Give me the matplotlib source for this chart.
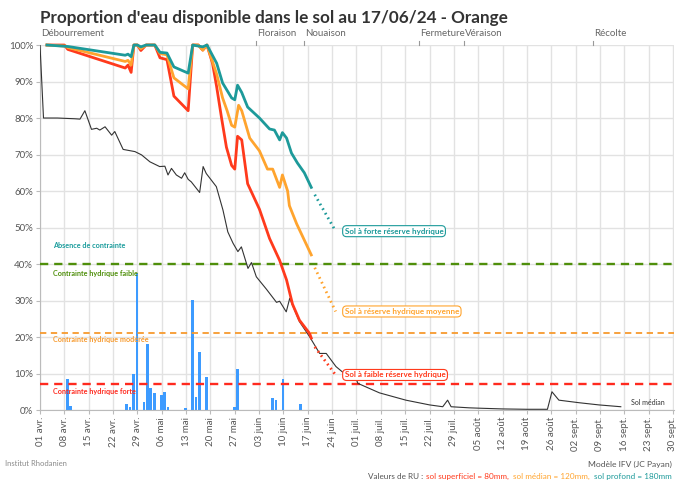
import matplotlib
matplotlib.use("Agg")
import matplotlib.pyplot as plt
import matplotlib.transforms as mtransforms

plt.rcParams['font.family'] = ['Lato', 'DejaVu Sans']

# jours comptés depuis le 01 avril
tick_labels = ["01 avr.", "08 avr.", "15 avr.", "22 avr.", "29 avr.", "06 mai", "13 mai",
               "20 mai", "27 mai", "03 juin", "10 juin", "17 juin", "24 juin", "01 juil.",
               "08 juil.", "15 juil.", "22 juil.", "29 juil.", "05 août", "12 août",
               "19 août", "26 août", "02 sept.", "09 sept.", "16 sept.", "23 sept.", "30 sept."]

stages = ["Débourrement", "Floraison", "Nouaison", "Fermeture", "Véraison", "Récolte"]
stage_days = [0, 62, 76, 109, 122, 159]

# sol médian (historique)
median_days = [0, 1, 5, 10, 11.5, 12.9, 14.8, 16.3, 17.2, 18.7, 20.6, 21.5, 23.9, 27.3, 29.2,
               31.6, 34.4, 35.9, 36.8, 37.8, 39.2, 40.7, 41.6, 42.6, 43.5, 45.9, 46.9, 47.8,
               50.7, 52.6, 54.0, 55.5, 56.9, 57.9, 59.8, 60.8, 62.2, 65.1, 68.0, 68.9, 70.8,
               71.8, 74.6, 77.5, 80.4, 82.3, 85.1, 87.5, 89.9, 91.4, 97.6, 105.2, 112, 115.8,
               117.2, 118.2, 123.4, 126.3, 133, 140, 145.9, 147.2, 149.2, 155, 160.7, 167]
median_vals = [100, 80, 80, 79.8, 79.7, 82, 76.9, 77.2, 76.7, 77.6, 75.3, 76.3, 71.4, 70.8, 69.9,
               68, 66.7, 66.8, 64.4, 66.2, 64.4, 63.5, 65, 63.2, 62.5, 59.6, 66.7, 64.8,
               61.2, 54.8, 48.8, 45.7, 43.4, 44.7, 38.8, 40.4, 36.5, 33.1, 29.5, 29.8, 26.9,
               30.6, 24.2, 20.1, 15.5, 15.5, 11.9, 10, 11.1, 7.3, 4.7, 2.7, 1.4, 0.9,
               2.7, 0.9, 0.6, 0.5, 0.3, 0.2, 0.2, 5, 2.7, 2, 1.4, 0.9]

# sol profond (180 mm)
deep_days = [2, 8, 24.5, 25.3, 26.2, 27, 28, 29, 30.5, 33, 34.5, 36.5, 38.5, 42.6, 43.9, 46.8,
             48, 50.8, 52.5, 55.1, 56, 56.8, 58, 59.7, 63.1, 66, 67.4, 68.9, 69.7, 70.9, 72.3,
             74, 76, 78]
deep_vals = [100, 99.6, 97.2, 97.5, 96.8, 100, 100, 99.5, 100, 100, 98, 97.8, 94, 92.3, 100, 99.5,
             100, 95, 89.6, 85.5, 85, 89, 87, 83, 80, 77, 76.7, 74, 76, 74.5, 70.4,
             67.7, 65, 61]
deep_proj_days = [79, 85]
deep_proj_vals = [59, 49]

# sol médian (120 mm)
mid_days = [2, 7.5, 8, 24.5, 25.3, 26.2, 27, 28, 29, 30.5, 33, 34.5, 36.5, 38.5, 42.6, 43.9,
            45.5, 46.8, 48, 50.8, 52.5, 53.8, 55.1, 56, 57.1, 58, 60.3, 63.1, 65.4, 66.9, 68.9,
            69.7, 71.2, 71.7, 73.8, 78]
mid_vals = [100, 99.7, 99.3, 95.5, 95.8, 94.5, 100, 100, 99, 100, 100, 97.7, 97.3, 91, 88, 100,
            100, 98.6, 100, 92, 85.5, 82, 78, 77.5, 83.5, 82, 74.5, 71, 66, 66, 61,
            64.4, 60, 56, 51, 42.5]
mid_proj_days = [79, 85]
mid_proj_vals = [39, 27]

# sol superficiel (80 mm)
shallow_days = [2, 7, 8, 24.5, 25.3, 26.2, 27, 28, 29, 30.5, 33, 34.5, 36.5, 38.5, 42.6, 43.9,
                45.5, 46.8, 48, 49.6, 50.8, 52.2, 53.6, 55.1, 56, 56.8, 58, 59.7, 63.1, 66,
                68.9, 70.9, 72.6, 74.6, 77.5, 78]
shallow_vals = [100, 100, 98.8, 93.7, 94.5, 92.5, 100, 100, 98.5, 100, 100, 96.5, 96, 86, 82, 100,
                100, 98.6, 100, 95, 88.5, 80, 72, 67, 66, 75, 74, 62, 55, 47,
                41, 35.6, 29, 24.6, 21, 19.7]
shallow_proj_days = [79, 85]
shallow_proj_vals = [17.3, 9.6]

# pluie (barres bleues)
rain_days = [8, 9, 25, 26, 27, 28, 30, 31, 32, 33, 35, 36, 37, 42, 44, 45, 46, 48,
             56, 57, 67, 68, 70, 75]
rain_vals = [8.4, 1.2, 1.6, 0.8, 9.9, 37.6, 2.1, 18, 5.9, 4.7, 4.1, 4.8, 0.7, 0.5, 30.1, 3.7,
             16, 9.1, 0.7, 11.2, 3.2, 2.7, 8.4, 1.6]

thresholds = [40, 21, 7]
threshold_colors = ["#4f8f0b", "#f79a2e", "#ff2a1f"]
zone_labels = ["Absence de contrainte", "Contrainte hydrique faible",
               "Contrainte hydrique modérée", "Contrainte hydrique forte"]
zone_label_y = [45, 37.5, 19.2, 5]
zone_colors = ["#1a9c9c", "#4f8f0b", "#f79a2e", "#ff2a1f"]

teal = "#1d9a9a"
orange = "#ffa42e"
red = "#ff3a1c"

fig = plt.figure(figsize=(6.77, 4.80), dpi=100)
ax = fig.add_axes([0.0591, 0.1458, 0.9365, 0.7604])

ax.set_xlim(0, 182.3)
ax.set_ylim(0, 100)
ax.set_xticks(range(0, 183, 7))
ax.set_xticklabels(tick_labels, rotation=90, fontsize=7, color="#555555")
ax.set_yticks(range(0, 101, 10))
ax.set_yticklabels([f"{v}%" for v in range(0, 101, 10)], fontsize=7, color="#555555")
ax.tick_params(length=3, color="#bbbbbb", pad=2)
ax.grid(color="#e2e2e2", lw=1.0)
ax.set_axisbelow(True)
for s in ["top", "right"]:
    ax.spines[s].set_visible(False)
for s in ["left", "bottom"]:
    ax.spines[s].set_color("#bbbbbb")

ax.bar([d - 0.15 for d in rain_days], rain_vals, width=0.75, color="#3d9bff", zorder=2)

for v, c in zip(thresholds, threshold_colors):
    lw = 1.7 if c != "#f79a2e" else 1.3
    ax.axhline(v, color=c, lw=lw, linestyle=(0, (3.5, 2.5)), zorder=3)

for txt, y, c in zip(zone_labels, zone_label_y, zone_colors):
    ax.text(3.8, y, txt, color=c, fontsize=5.2, fontweight="bold", va="center")

ax.plot(median_days, median_vals, color="#333333", lw=0.8, zorder=4)
ax.text(170, 2, "Sol médian", fontsize=5, color="#333333", va="center")

ax.plot(shallow_days, shallow_vals, color=red, lw=2, zorder=5, clip_on=False)
ax.plot(mid_days, mid_vals, color=orange, lw=2, zorder=6, clip_on=False)
ax.plot(deep_days, deep_vals, color=teal, lw=2, zorder=7, clip_on=False)

ax.plot(shallow_proj_days, shallow_proj_vals, color=red, lw=2, linestyle=(0, (0.6, 1.3)), zorder=5)
ax.plot(mid_proj_days, mid_proj_vals, color=orange, lw=2, linestyle=(0, (0.6, 1.3)), zorder=6)
ax.plot(deep_proj_days, deep_proj_vals, color=teal, lw=2, linestyle=(0, (0.6, 1.3)), zorder=7)

box_labels = ["Sol à forte réserve hydrique", "Sol à réserve hydrique moyenne",
              "Sol à faible réserve hydrique"]
box_y = [49, 27, 9.6]
for txt, y, c in zip(box_labels, box_y, [teal, orange, red]):
    ax.text(87.6, y, txt, color=c, fontsize=5.8, fontweight="bold", va="center",
            bbox=dict(boxstyle="round,pad=0.25,rounding_size=0.5", fc="white", ec=c, lw=0.8),
            zorder=8)

# stades phénologiques
trans = mtransforms.blended_transform_factory(ax.transData, ax.transAxes)
for name, d in zip(stages, stage_days):
    if d > 0:
        ax.plot([d, d], [1.0, 1.012], color="#999999", lw=0.8, transform=trans, clip_on=False)
    ax.text(d + 0.3, 1.02, name, transform=trans, fontsize=7, color="#666666", va="bottom")

fig.text(0.059, 0.962, "Proportion d'eau disponible dans le sol au 17/06/24 - Orange",
         fontsize=12.3, fontweight="bold", color="#333333", va="center")

fig.text(0.007, 0.035, "Institut Rhodanien", fontsize=5.5, color="#8a8a8a", va="center")

fig.text(0.992, 0.032, "Modèle IFV (JC Payan)", fontsize=6.1, color="#555555",
         ha="right", va="center")

renderer = fig.canvas.get_renderer()
parts = [("Valeurs de RU : ", "#555555"), ("sol superficiel = 80mm,  ", red),
         ("sol médian = 120mm,  ", orange), ("sol profond = 180mm", teal)]
x = 0.992
for txt, c in reversed(parts):
    t = fig.text(x, 0.008, txt, fontsize=5.9, color=c, ha="right", va="center")
    bb = t.get_window_extent(renderer=renderer)
    x = bb.x0 / fig.bbox.width

fig.savefig("out.png", dpi=100)
